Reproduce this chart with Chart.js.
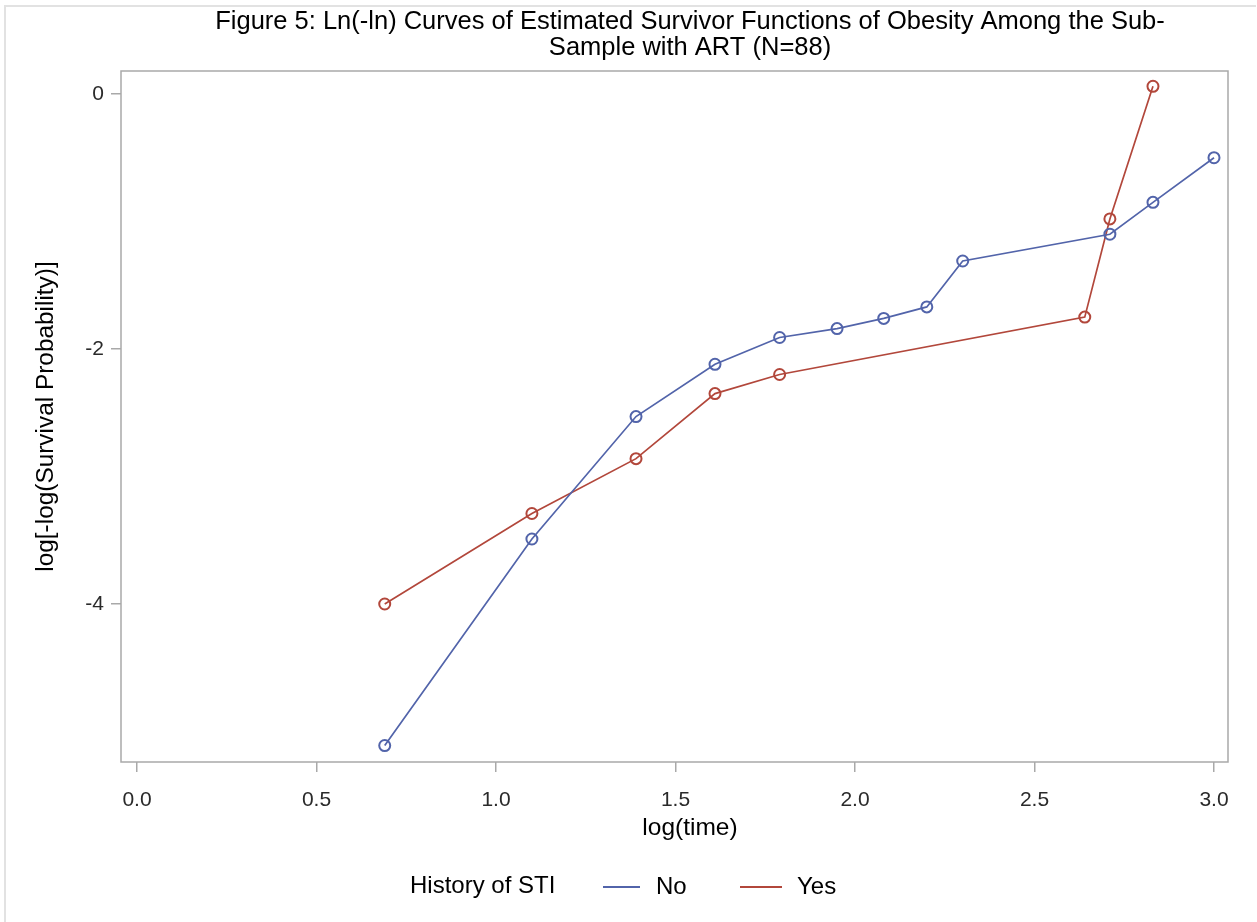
<!DOCTYPE html>
<html>
<head>
<meta charset="utf-8">
<title>Ln(-ln) curves</title>
<script src="https://cdn.jsdelivr.net/npm/chart.js@4.4.0/dist/chart.umd.min.js"></script>
<style>
  html, body { margin: 0; padding: 0; background: #fff; }
  #wrap { position: relative; width: 1257px; height: 922px; overflow: hidden; }
  #frame { position: absolute; left: 4px; top: 5px; width: 1250px; height: 920px;
           border-top: 2px solid #e2e2e2; border-left: 2px solid #e2e2e2; }
  canvas { position: absolute; left: 0; top: 0; }
</style>
</head>
<body>
<div id="wrap">
  <div id="frame"></div>
  <canvas id="lnChart" width="1257" height="922"></canvas>
</div>
<script>
// log(time) and log[-log(S)]
const timeNo  = [0.69, 1.10, 1.39, 1.61, 1.79, 1.95, 2.08, 2.20, 2.30, 2.71, 2.83, 3.00];
const survNo  = [-5.11, -3.49, -2.53, -2.12, -1.91, -1.84, -1.76, -1.67, -1.31, -1.10, -0.85, -0.50];
const timeYes = [0.69, 1.10, 1.39, 1.61, 1.79, 2.64, 2.71, 2.83];
const survYes = [-4.00, -3.29, -2.86, -2.35, -2.20, -1.75, -0.98, 0.06];

const xTicks = [0, 0.5, 1.0, 1.5, 2.0, 2.5, 3.0];
const yTicks = [0, -2, -4];

const titleLines = [
  'Figure 5: Ln(-ln) Curves of Estimated Survivor Functions of Obesity Among the Sub-',
  'Sample with ART (N=88)'
];
const xTitle = 'log(time)';
const legendTitle = 'History of STI';
const groups = ['No', 'Yes'];

const blue = '#5264aa';
const red = '#b2473b';
const FONT = '"Liberation Sans", Arial, Helvetica, sans-serif';

const toPoints = (xs, ys) => xs.map((x, i) => ({ x: x, y: ys[i] }));

// plot frame, titles and the SAS style legend
const extras = {
  id: 'extras',
  beforeDatasetsDraw(chart) {
    const { ctx, chartArea: a } = chart;
    ctx.save();
    ctx.strokeStyle = '#a9a9a9';
    ctx.lineWidth = 1.5;
    ctx.strokeRect(a.left, a.top, a.right - a.left, a.bottom - a.top);
    ctx.restore();
  },
  afterDraw(chart) {
    const ctx = chart.ctx;
    ctx.save();
    ctx.fillStyle = '#000';
    ctx.font = '25.5px ' + FONT;
    ctx.textAlign = 'center';
    ctx.textBaseline = 'middle';
    ctx.fillText(titleLines[0], 690, 22);
    ctx.fillText(titleLines[1], 690, 48);

    ctx.font = '24.5px ' + FONT;
    ctx.fillText(xTitle, 690, 828);

    ctx.textAlign = 'left';
    ctx.font = '24px ' + FONT;
    ctx.fillText(legendTitle, 410, 886);
    ctx.lineWidth = 2;
    ctx.strokeStyle = blue;
    ctx.beginPath(); ctx.moveTo(603, 887); ctx.lineTo(640, 887); ctx.stroke();
    ctx.fillText(groups[0], 656, 887);
    ctx.strokeStyle = red;
    ctx.beginPath(); ctx.moveTo(740, 887); ctx.lineTo(782, 887); ctx.stroke();
    ctx.fillText(groups[1], 797, 887);
    ctx.restore();
  }
};

const ctx = document.getElementById('lnChart').getContext('2d');
new Chart(ctx, {
  type: 'scatter',
  data: {
    datasets: [{
      label: groups[0],
      data: toPoints(timeNo, survNo),
      showLine: true,
      borderColor: blue,
      borderWidth: 1.7,
      pointRadius: 5.5,
      pointBorderWidth: 2,
      pointBorderColor: blue,
      pointBackgroundColor: 'rgba(0,0,0,0)',
      tension: 0
    }, {
      label: groups[1],
      data: toPoints(timeYes, survYes),
      showLine: true,
      borderColor: red,
      borderWidth: 1.7,
      pointRadius: 5.5,
      pointBorderWidth: 2,
      pointBorderColor: red,
      pointBackgroundColor: 'rgba(0,0,0,0)',
      tension: 0
    }]
  },
  options: {
    responsive: false,
    animation: false,
    layout: { padding: { left: 0, right: 29, top: 71, bottom: 76 } },
    plugins: {
      legend: { display: false },
      title: { display: false },
      tooltip: { enabled: false }
    },
    scales: {
      x: {
        type: 'linear',
        min: -0.0446,
        max: 3.039,
        afterBuildTicks: (s) => { s.ticks = xTicks.map(v => ({ value: v })); },
        afterFit: (s) => { s.height = 84; },
        grid: { drawOnChartArea: false, tickLength: 10, color: '#a9a9a9', lineWidth: 1.5 },
        border: { display: false },
        ticks: {
          color: '#2a2a2a',
          font: { family: FONT, size: 21 },
          padding: 16,
          maxRotation: 0,
          callback: (v) => Number(v).toFixed(1)
        },
        title: { display: false }
      },
      y: {
        type: 'linear',
        min: -5.239,
        max: 0.18,
        afterBuildTicks: (s) => { s.ticks = yTicks.map(v => ({ value: v })); },
        afterFit: (s) => { s.width = 121; },
        grid: { drawOnChartArea: false, tickLength: 10, color: '#a9a9a9', lineWidth: 1.5 },
        border: { display: false },
        ticks: {
          color: '#2a2a2a',
          font: { family: FONT, size: 21 },
          padding: 7
        },
        title: {
          display: true,
          text: 'log[-log(Survival Probability)]',
          color: '#000',
          font: { family: FONT, size: 24.4 },
          padding: { top: 32, bottom: 0 }
        }
      }
    }
  },
  plugins: [extras]
});
</script>
</body>
</html>
